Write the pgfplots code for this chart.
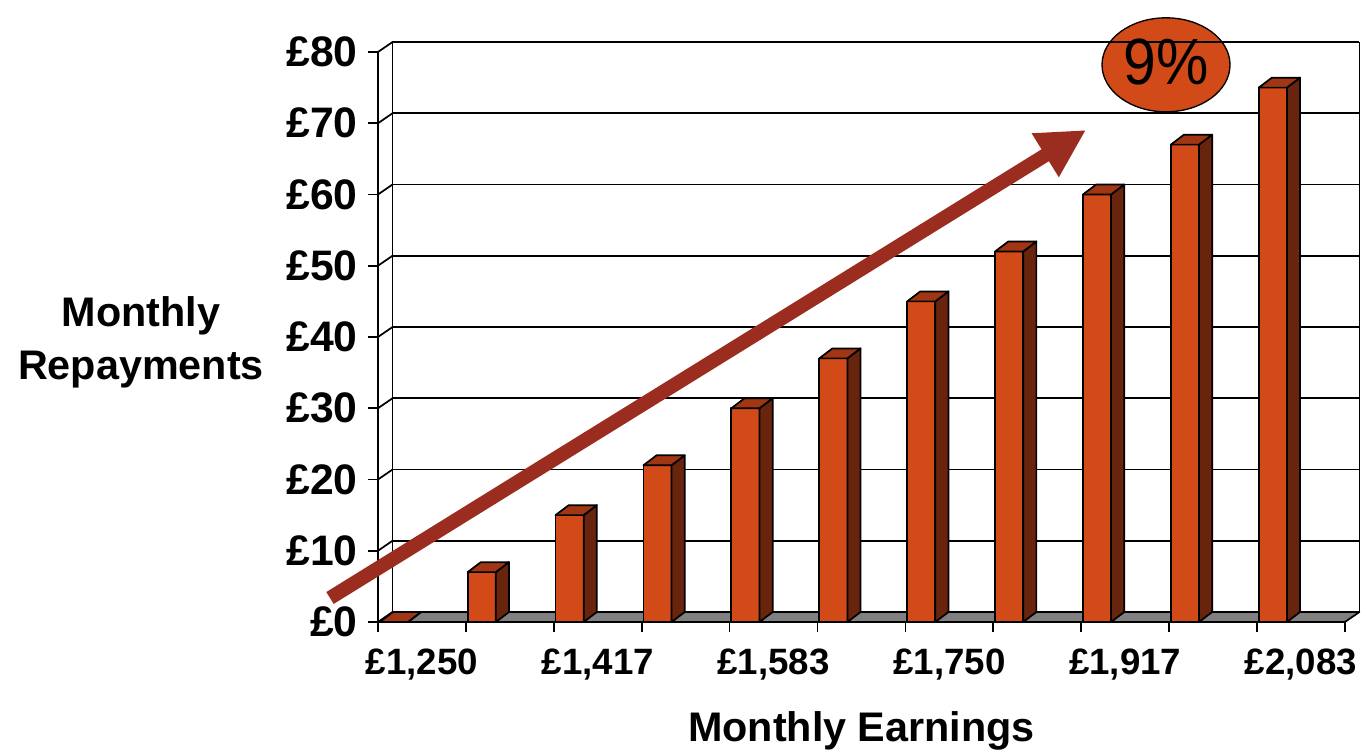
\documentclass[border=0pt]{standalone}
\usepackage{pgfplots}
\pgfplotsset{compat=1.18}
\usepackage{fontspec}
\setmainfont{Liberation Sans}
\usetikzlibrary{arrows.meta}
\definecolor{barfront}{RGB}{210,74,24}
\definecolor{bartop}{RGB}{160,54,20}
\definecolor{barside}{RGB}{105,36,14}
\definecolor{floorgray}{RGB}{128,128,128}
\definecolor{arrowc}{RGB}{155,45,32}
\newcommand{\bw}{0.32}
\newcommand{\bdx}{0.15}
\newcommand{\bdy}{1.4}
\newcommand{\tdbar}[2]{%
  \pgfmathsetmacro\xa{#1+0.02}%
  \pgfmathsetmacro\xb{#1+0.02+\bw}%
  \pgfmathsetmacro\xc{#1+0.02+\bw+\bdx}%
  \pgfmathsetmacro\xd{#1+0.02+\bdx}%
  \pgfmathsetmacro\yt{#2+\bdy}%
  \edef\tmp{%
    \noexpand\addplot[fill=barfront,draw=black,line width=1.3pt,line join=round] coordinates {(\xa,0) (\xb,0) (\xb,#2) (\xa,#2)} -- cycle;
    \noexpand\addplot[fill=barside,draw=black,line width=1.3pt,line join=round] coordinates {(\xb,0) (\xc,\bdy) (\xc,\yt) (\xb,#2)} -- cycle;
    \noexpand\addplot[fill=bartop,draw=black,line width=1.3pt,line join=round] coordinates {(\xa,#2) (\xd,\yt) (\xc,\yt) (\xb,#2)} -- cycle;
  }\tmp}
\begin{document}
\begin{tikzpicture}
\begin{axis}[
  x=65.925pt, y=5.34375pt,
  xmin=0, xmax=11.17, ymin=0, ymax=82,
  clip=false,
  axis line style={draw=none},
  tick pos=left,
  tick align=outside,
  major tick length=7.5pt,
  every tick/.style={black, line width=1.3pt},
  xtick={0,1,...,11},
  xticklabels={},
  ytick={0,10,...,80},
  yticklabels={£0,£10,£20,£30,£40,£50,£60,£70,£80},
  yticklabel style={font=\fontsize{32}{38}\selectfont\bfseries, inner sep=0pt, anchor=east, xshift=-7.5pt},
  extra x ticks={0.5,2.5,4.5,6.5,8.5,10.5},
  extra x tick labels={{£1,250},{£1,417},{£1,583},{£1,750},{£1,917},{£2,083}},
  extra x tick style={major tick length=0pt, xticklabel style={font=\fontsize{27.5}{33}\selectfont\bfseries, inner sep=0pt, anchor=north, yshift=-20pt}},
  no markers,
]
% floor
\addplot[fill=floorgray, draw=black, line width=1.3pt, line join=round] coordinates {(0,0) (11,0) (11.165,1.4) (0.165,1.4)} -- cycle;
% 9% bubble (behind grid)
\draw[fill=barfront, draw=black, line width=1pt] (axis cs:8.965,78.2) ellipse [x radius=48pt, y radius=35.25pt];
% back wall grid lines
\addplot[black, line width=1.3pt] coordinates {(0.165,11.4) (11.165,11.4)};
\addplot[black, line width=1.3pt] coordinates {(0.165,21.4) (11.165,21.4)};
\addplot[black, line width=1.3pt] coordinates {(0.165,31.4) (11.165,31.4)};
\addplot[black, line width=1.3pt] coordinates {(0.165,41.4) (11.165,41.4)};
\addplot[black, line width=1.3pt] coordinates {(0.165,51.4) (11.165,51.4)};
\addplot[black, line width=1.3pt] coordinates {(0.165,61.4) (11.165,61.4)};
\addplot[black, line width=1.3pt] coordinates {(0.165,71.4) (11.165,71.4)};
\addplot[black, line width=1.3pt] coordinates {(0.165,81.4) (11.165,81.4)};
% back wall verticals
\addplot[black, line width=1.3pt] coordinates {(0.165,1.4) (0.165,81.4)};
\addplot[black, line width=1.3pt] coordinates {(11.165,1.4) (11.165,81.4)};
% side wall diagonals
\addplot[black, line width=1.3pt] coordinates {(0,10) (0.165,11.4)};
\addplot[black, line width=1.3pt] coordinates {(0,20) (0.165,21.4)};
\addplot[black, line width=1.3pt] coordinates {(0,30) (0.165,31.4)};
\addplot[black, line width=1.3pt] coordinates {(0,40) (0.165,41.4)};
\addplot[black, line width=1.3pt] coordinates {(0,50) (0.165,51.4)};
\addplot[black, line width=1.3pt] coordinates {(0,60) (0.165,61.4)};
\addplot[black, line width=1.3pt] coordinates {(0,70) (0.165,71.4)};
\addplot[black, line width=1.3pt] coordinates {(0,80) (0.165,81.4)};
% front axes
\addplot[black, line width=1.3pt] coordinates {(0,80) (0,0) (11,0)};
% bars (monthly repayments)
\tdbar{0}{0}
\tdbar{1}{7}
\tdbar{2}{15}
\tdbar{3}{22}
\tdbar{4}{30}
\tdbar{5}{37}
\tdbar{6}{45}
\tdbar{7}{52}
\tdbar{8}{60}
\tdbar{9}{67}
\tdbar{10}{75}
% arrow
\draw[arrowc, line width=10.5pt, -{Triangle[length=36pt,width=36pt]}] (axis cs:-0.546,3.37) -- (axis cs:8.055,69.05);
% bubble text
\node[font=\fontsize{49}{58}\selectfont, inner sep=0pt, xscale=0.9] at (axis cs:8.965,78.6) {9\%};
% labels
\node[font=\fontsize{31}{40}\selectfont\bfseries, align=center, inner sep=0pt] at (axis cs:-2.696,39.3) {Monthly\\Repayments};
\node[font=\fontsize{31}{39}\selectfont\bfseries, anchor=base, inner sep=0pt] at (axis cs:5.5,-16.84) {Monthly Earnings};
% page extent
\path (axis cs:-4.3003,-18.526) rectangle (axis cs:11.2059,87.298);
\end{axis}
\end{tikzpicture}
\end{document}
